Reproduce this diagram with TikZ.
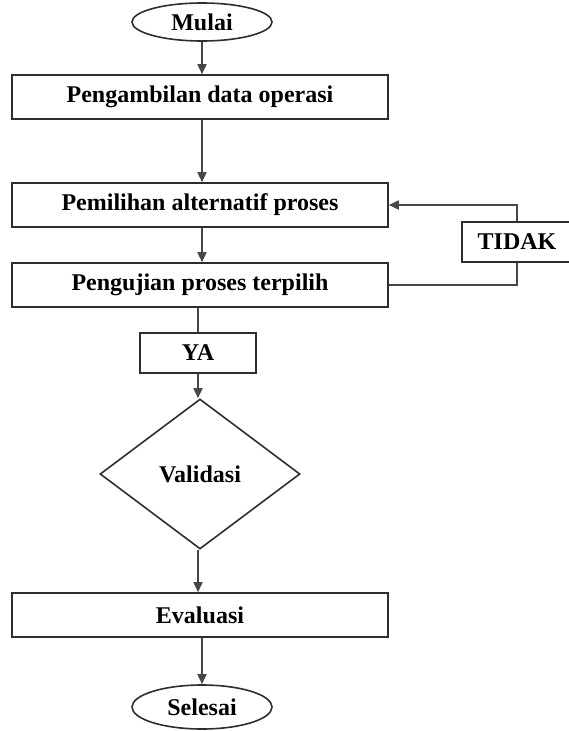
\documentclass[tikz,border=0pt]{standalone}
\usepackage{fontspec}
\setmainfont{Liberation Serif}
\usetikzlibrary{shapes.geometric,arrows.meta}
\begin{document}
\begin{tikzpicture}[x=1pt,y=-1pt,
  every node/.style={font=\fontsize{24}{27}\selectfont\bfseries, text=black, inner sep=0pt},
  edgecol/.style={draw=black!82, line width=1.6pt},
  terminal/.style={edgecol, ellipse, fill=white, minimum width=140pt, minimum height=38pt},
  stepbox/.style={edgecol, rectangle, fill=white, minimum width=376pt, minimum height=44pt},
  tagbox/.style={edgecol, rectangle, fill=white, minimum height=40pt},
  decision/.style={edgecol, diamond, fill=white, minimum width=200pt, minimum height=150pt, aspect=1.33},
  flow/.style={draw=black!72, line width=1.6pt, -{Triangle[length=10pt,width=9pt]}},
  plain/.style={draw=black!72, line width=1.6pt}]
  \fill[white] (0,0) rectangle (568,731);
  \useasboundingbox (0,0) rectangle (568,731);

  \node[terminal] (mulai) at (202,22) {Mulai};
  \node[stepbox] (ambil) at (200,97) {Pengambilan data operasi};
  \node[stepbox] (pilih) at (200,205) {Pemilihan alternatif proses};
  \node[stepbox] (uji) at (200,285) {Pengujian proses terpilih};
  \node[tagbox, minimum width=110pt] (tidak) at (517,242) {TIDAK};
  \node[tagbox, minimum width=116pt] (ya) at (198,353) {YA};
  \node[decision] (valid) at (200,474) {Validasi};
  \node[stepbox] (eval) at (200,615) {Evaluasi};
  \node[terminal, minimum height=44pt] (selesai) at (202,707) {Selesai};

  \draw[flow] (mulai.south) -- (mulai.south |- ambil.north);
  \draw[flow] (ambil.south -| mulai.south) -- (mulai.south |- pilih.north);
  \draw[flow] (pilih.south -| mulai.south) -- (mulai.south |- uji.north);
  \draw[plain] (uji.south -| ya.north) -- (ya.north);
  \draw[flow] (ya.south) -- (ya.south |- valid.north);
  \draw[flow] (valid.south -| ya.south) -- (ya.south |- eval.north);
  \draw[flow] (eval.south -| selesai.north) -- (selesai.north);

  \draw[plain] (uji.east) -| (tidak.south);
  \draw[flow] (tidak.north) |- (pilih.east);
\end{tikzpicture}
\end{document}
